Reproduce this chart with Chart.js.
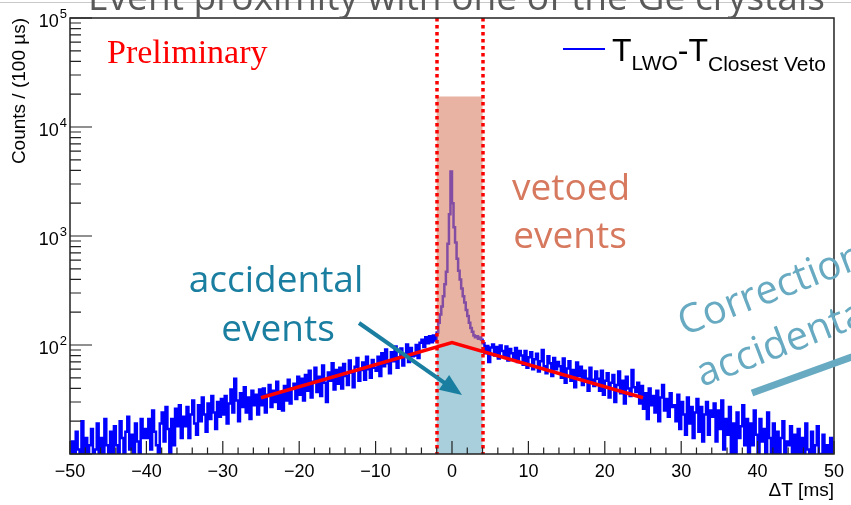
<!DOCTYPE html>
<html>
<head>
<meta charset="utf-8">
<script src="https://cdn.jsdelivr.net/npm/chart.js@4.4.1/dist/chart.umd.min.js"></script>
<style>
html, body { margin: 0; padding: 0; background: #fff; }
#wrap { width: 851px; height: 505px; }
</style>
</head>
<body>
<div id="wrap"><canvas id="CanvasChart" width="851" height="505"></canvas></div>
<script>
// histogram counts (0.25 ms bins in the tails, 0.2 ms in the veto window)
const leftStart = -50;
const tailBin = 0.25;
const leftCounts = [
    5, 13, 8, 16, 11, 6, 20, 9, 14, 5, 12, 17, 7, 11, 19, 6, 14, 9, 21, 12,
    10, 16, 7, 18, 12, 8, 20, 14, 6, 16, 22, 11, 15, 7, 19, 13, 9, 21, 14, 17,
    14, 21, 11, 25, 16, 12, 6, 19, 24, 13, 27, 17, 5, 21, 12, 26, 18, 28, 14, 22,
    18, 27, 14, 23, 31, 19, 15, 28, 20, 33, 23, 16, 29, 21, 34, 24, 17, 30, 22, 32,
    23, 34, 19, 29, 39, 24, 49, 31, 20, 36, 27, 41, 24, 33, 21, 38, 28, 35, 23, 39,
    28, 40, 24, 35, 43, 27, 38, 30, 46, 26, 37, 25, 42, 31, 48, 29, 40, 44, 32, 51,
    35, 49, 31, 53, 38, 58, 33, 46, 62, 37, 51, 34, 65, 45, 30, 56, 47, 68, 39, 59,
    44, 62, 40, 67, 52, 43, 72, 56, 41, 63, 76, 47, 59, 69, 48, 78, 60, 50, 73, 62,
    58, 78, 52, 84, 64, 91, 68, 55, 86, 71, 97, 62, 77, 93, 65, 82, 101, 70, 94, 79,
    80, 100, 76, 105, 112, 96, 118, 104, 120, 106, 122, 110
];
const vetoStart = -2;
const vetoBin = 0.2;
const vetoCounts = [
    130, 160, 190, 225, 280, 360, 470, 850, 1580, 3900,
    2000, 1200, 870, 620, 480, 400, 330, 280, 245, 210,
    185, 160, 143, 132, 122, 118, 120, 114, 117, 112
];
const rightStart = 4;
const rightCounts = [
    104, 84, 98, 70, 95, 101, 80, 96, 75, 99, 88, 78, 97, 72, 92, 84, 76, 94, 70, 88,
    80, 66, 88, 62, 77, 86, 60, 74, 83, 57, 71, 90, 64, 55, 79, 68, 52, 76, 60, 70,
    64, 50, 75, 45, 61, 71, 47, 59, 41, 69, 52, 63, 43, 58, 49, 38, 62, 48, 42, 57,
    49, 38, 58, 35, 47, 55, 33, 45, 53, 30, 43, 57, 36, 47, 29, 51, 40, 34, 59, 41,
    37, 45, 29, 42, 26, 36, 21, 40, 28, 34, 24, 38, 20, 33, 43, 25, 32, 22, 36, 27,
    28, 20, 35, 17, 30, 23, 15, 33, 19, 27, 14, 24, 32, 16, 27, 13, 23, 30, 15, 25,
    22, 29, 13, 25, 17, 31, 11, 21, 15, 27, 10, 19, 6, 24, 14, 18, 28, 12, 21, 10,
    19, 12, 25, 15, 9, 21, 13, 17, 8, 24, 14, 10, 19, 9, 16, 6, 14, 20, 10, 13,
    12, 18, 6, 15, 9, 17, 5, 14, 8, 19, 11, 5, 16, 7, 12, 18, 6, 10, 15, 5,
    12, 7, 14, 5
];

// accidental background fit
const fitX = [-25, 0, 25];
const fitY = [32.8, 105, 32.8];

// veto window
const vetoWindow = [-2, 4];
const vetoTop = 19000;

const xTicks = [-50, -40, -30, -20, -10, 0, 10, 20, 30, 40, 50];
const yTickValues = [100, 1000, 10000, 100000];
const yTickExp = ['2', '3', '4', '5'];

function histPoints() {
    let pts = [];
    leftCounts.forEach((c, i) => pts.push({x: leftStart + i * tailBin, y: c}));
    vetoCounts.forEach((c, i) => pts.push({x: vetoStart + i * vetoBin, y: c}));
    rightCounts.forEach((c, i) => pts.push({x: rightStart + i * tailBin, y: c}));
    pts.push({x: 50, y: rightCounts[rightCounts.length - 1]});
    return pts;
}

const fitPoints = fitX.map((x, i) => ({x: x, y: fitY[i]}));

function fitPixelAt(chart, px) {
    const pts = chart.getDatasetMeta(0).data;
    for (let i = 0; i < pts.length - 1; i++) {
        if (px >= pts[i].x && px <= pts[i + 1].x) {
            const t = (px - pts[i].x) / (pts[i + 1].x - pts[i].x);
            return pts[i].y + t * (pts[i + 1].y - pts[i].y);
        }
    }
    return pts[0].y;
}

const overlay = {
    id: 'overlay',
    afterDatasetDraw(chart, args) {
        if (args.index !== 2) return;
        const ctx = chart.ctx, xs = chart.scales.x, ys = chart.scales.y;
        const area = chart.chartArea;
        const x1 = xs.getPixelForValue(vetoWindow[0]);
        const x2 = xs.getPixelForValue(vetoWindow[1]);
        const yTop = ys.getPixelForValue(vetoTop);
        const inner = chart.getDatasetMeta(0).data.filter(p => p.x > x1 && p.x < x2);
        ctx.save();
        // light blue: accidental part
        ctx.fillStyle = 'rgb(168,207,219)';
        ctx.beginPath();
        ctx.moveTo(x1, fitPixelAt(chart, x1));
        inner.forEach(p => ctx.lineTo(p.x, p.y));
        ctx.lineTo(x2, fitPixelAt(chart, x2));
        ctx.lineTo(x2, area.bottom);
        ctx.lineTo(x1, area.bottom);
        ctx.closePath();
        ctx.fill();
        // pink: vetoed part, see-through
        ctx.fillStyle = 'rgba(218,128,102,0.6)';
        ctx.beginPath();
        ctx.moveTo(x1, yTop);
        ctx.lineTo(x2, yTop);
        ctx.lineTo(x2, fitPixelAt(chart, x2));
        inner.slice().reverse().forEach(p => ctx.lineTo(p.x, p.y));
        ctx.lineTo(x1, fitPixelAt(chart, x1));
        ctx.closePath();
        ctx.fill();
        ctx.restore();
    },
    afterDatasetsDraw(chart) {
        const ctx = chart.ctx, xs = chart.scales.x, ys = chart.scales.y;
        const a = chart.chartArea;
        ctx.save();

        // dotted window edges
        ctx.strokeStyle = 'rgb(250,0,0)';
        ctx.lineWidth = 3.5;
        ctx.setLineDash([3.5, 3.5]);
        vetoWindow.forEach(v => {
            const px = Math.round(xs.getPixelForValue(v));
            ctx.beginPath();
            ctx.moveTo(px, a.top);
            ctx.lineTo(px, a.bottom);
            ctx.stroke();
        });
        ctx.setLineDash([]);

        // frame + ticks, ROOT style
        ctx.strokeStyle = '#222';
        ctx.lineWidth = 1.5;
        ctx.strokeRect(a.left, a.top, a.right - a.left, a.bottom - a.top);
        ctx.lineWidth = 1.2;
        ctx.beginPath();
        for (let v = -50; v <= 50; v += 2) {
            const px = xs.getPixelForValue(v);
            const len = (v % 10 === 0) ? 13 : 6.5;
            ctx.moveTo(px, a.bottom);
            ctx.lineTo(px, a.bottom - len);
        }
        for (let d = 1; d <= 4; d++) {
            for (let m = 1; m <= 9; m++) {
                const py = ys.getPixelForValue(m * Math.pow(10, d));
                const len = m === 1 ? 22 : 11;
                ctx.moveTo(a.left, py);
                ctx.lineTo(a.left + len, py);
            }
        }
        ctx.moveTo(a.left, ys.getPixelForValue(100000));
        ctx.lineTo(a.left + 22, ys.getPixelForValue(100000));
        ctx.stroke();

        // y labels 10^n
        ctx.fillStyle = '#000';
        ctx.textBaseline = 'middle';
        yTickValues.forEach((v, i) => {
            const py = ys.getPixelForValue(v) + 4;
            ctx.font = '13px "Liberation Sans"';
            const ew = ctx.measureText(yTickExp[i]).width;
            ctx.textAlign = 'right';
            ctx.fillText(yTickExp[i], 67, py - 8);
            ctx.font = '18px "Liberation Sans"';
            ctx.fillText('10', 67 - ew - 1, py);
        });

        // y axis title, top aligned like ROOT
        ctx.save();
        ctx.translate(20, a.top);
        ctx.rotate(-Math.PI / 2);
        ctx.textAlign = 'right';
        ctx.font = '19px "Liberation Sans"';
        ctx.fillText('Counts / (100 µs)', 0, 0);
        ctx.restore();

        // legend
        ctx.strokeStyle = 'rgb(0,0,255)';
        ctx.lineWidth = 2;
        ctx.beginPath();
        ctx.moveTo(563, 49);
        ctx.lineTo(605, 49);
        ctx.stroke();
        ctx.textAlign = 'left';
        ctx.textBaseline = 'alphabetic';
        let lx = 612;
        const parts = [['T', 32, 61], ['LWO', 21, 70], ['-T', 32, 61], ['Closest Veto', 21, 71]];
        parts.forEach(p => {
            ctx.font = p[1] + 'px "Liberation Sans"';
            ctx.fillText(p[0], lx, p[2]);
            lx += ctx.measureText(p[0]).width;
        });

        // slide annotations
        ctx.fillStyle = 'rgb(255,0,0)';
        ctx.font = '34px "Liberation Serif"';
        ctx.fillText('Preliminary', 107, 63);

        ctx.fillStyle = 'rgb(214,121,94)';
        ctx.font = '37px "Open Sans"';
        ctx.textAlign = 'center';
        ctx.fillText('vetoed', 571, 200);
        ctx.fillText('events', 570, 248);

        ctx.fillStyle = 'rgb(26,126,160)';
        ctx.fillText('accidental', 276, 292);
        ctx.fillText('events', 278, 341);

        // arrow
        const ax0 = 359, ay0 = 323, ax1 = 462, ay1 = 395;
        const ang = Math.atan2(ay1 - ay0, ax1 - ax0);
        ctx.strokeStyle = 'rgb(26,126,160)';
        ctx.lineWidth = 4;
        ctx.beginPath();
        ctx.moveTo(ax0, ay0);
        ctx.lineTo(ax1 - 16 * Math.cos(ang), ay1 - 16 * Math.sin(ang));
        ctx.stroke();
        ctx.beginPath();
        ctx.moveTo(ax1, ay1);
        ctx.lineTo(ax1 - 22 * Math.cos(ang) + 9 * Math.sin(ang), ay1 - 22 * Math.sin(ang) - 9 * Math.cos(ang));
        ctx.lineTo(ax1 - 22 * Math.cos(ang) - 9 * Math.sin(ang), ay1 - 22 * Math.sin(ang) + 9 * Math.cos(ang));
        ctx.closePath();
        ctx.fill();

        // cut off text on the right
        ctx.fillStyle = 'rgb(103,170,193)';
        ctx.font = '40px "Open Sans"';
        ctx.textAlign = 'left';
        const rot = -21 * Math.PI / 180;
        ctx.save();
        ctx.translate(684, 336);
        ctx.rotate(rot);
        ctx.fillText('Correction', 0, 0);
        ctx.restore();
        ctx.save();
        ctx.translate(702, 387);
        ctx.rotate(rot);
        ctx.fillText('accidental', 0, 0);
        ctx.restore();
        ctx.strokeStyle = 'rgb(103,170,193)';
        ctx.lineWidth = 7;
        ctx.beginPath();
        ctx.moveTo(752, 393);
        ctx.lineTo(860, 354);
        ctx.stroke();

        // slide title, mostly out of frame
        ctx.strokeStyle = '#c8c8c8';
        ctx.lineWidth = 1;
        ctx.beginPath();
        ctx.moveTo(0, 2.5);
        ctx.lineTo(851, 2.5);
        ctx.stroke();
        ctx.fillStyle = '#595959';
        ctx.font = '32px "Open Sans"';
        const title = 'Event proximity with one of the Ge crystals';
        const tw = ctx.measureText(title).width;
        ctx.font = (32 * 737 / tw).toFixed(1) + 'px "Open Sans"';
        ctx.fillText(title, 88, 10);

        ctx.restore();
    }
};

const ctx = document.getElementById('CanvasChart').getContext('2d');
const CanvasChart = new Chart(ctx, {
    type: 'line',
    data: {
        datasets: [{
            label: 'fit',
            data: fitPoints,
            borderColor: 'rgb(255,0,0)',
            borderWidth: 3.5,
            pointRadius: 0,
            fill: false,
            tension: 0
        }, {
            label: 'unused',
            data: [],
            pointRadius: 0
        }, {
            label: 'T_LWO-T_Closest Veto',
            data: histPoints(),
            borderColor: 'rgb(0,0,255)',
            borderWidth: 2.5,
            pointRadius: 0,
            fill: false,
            stepped: true,
            tension: 0,
            clip: 0
        }]
    },
    options: {
        responsive: false,
        animation: false,
        events: [],
        layout: {padding: {top: 18, right: 15, left: 0, bottom: 0}},
        plugins: {legend: {display: false}, tooltip: {enabled: false}},
        scales: {
            x: {
                type: 'linear',
                min: -50,
                max: 50,
                afterFit(s) { s.height = 51; },
                afterBuildTicks(s) { s.ticks = xTicks.map(v => ({value: v})); },
                grid: {display: false, drawTicks: false},
                border: {display: false},
                ticks: {
                    color: '#000',
                    font: {family: 'Liberation Sans', size: 18},
                    padding: 7,
                    maxRotation: 0,
                    autoSkip: false,
                    callback: v => v < 0 ? '\u2212' + Math.abs(v) : String(v)
                },
                title: {
                    display: true,
                    text: 'ΔT [ms]',
                    align: 'end',
                    color: '#000',
                    font: {family: 'Liberation Sans', size: 19},
                    padding: {top: 0, bottom: 3}
                }
            },
            y: {
                type: 'logarithmic',
                min: 10,
                max: 100000,
                afterFit(s) { s.width = 70; },
                grid: {display: false, drawTicks: false},
                border: {display: false},
                ticks: {display: false}
            }
        }
    },
    plugins: [overlay]
});
</script>
</body>
</html>
